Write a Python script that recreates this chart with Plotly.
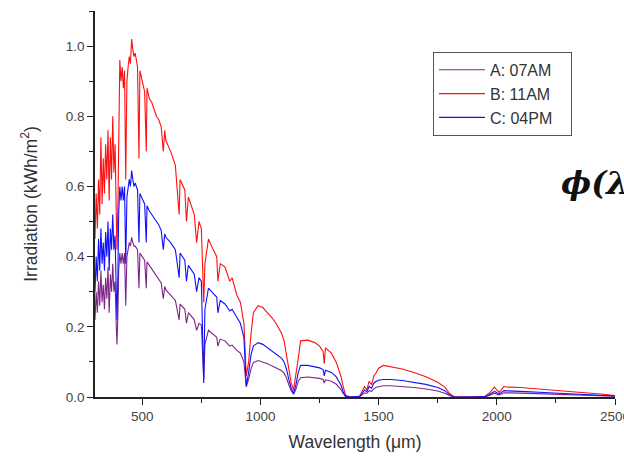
import plotly.graph_objects as go

wavelength = [300, 305, 310, 315, 320, 325, 330, 335, 340, 345, 350, 355, 360, 365, 370, 375, 380, 385, 390, 393, 397,
              400, 405, 410, 415, 420, 425, 430, 435, 440, 445, 450, 455, 460, 465, 470, 480, 486, 490, 500, 510, 517,
              520, 530, 540, 550, 560, 570, 580, 589, 595, 600, 620, 640, 656, 660, 680, 687, 695, 700, 720, 730, 740,
              750, 760, 765, 780, 800, 815, 820, 830, 850, 870, 880, 900, 915, 930, 940, 950, 960, 970, 990, 1010,
              1030, 1050, 1070, 1090, 1100, 1110, 1120, 1130, 1140, 1150, 1160, 1170, 1200, 1230, 1250, 1265, 1270,
              1275, 1300, 1320, 1340, 1350, 1360, 1380, 1400, 1420, 1430, 1440, 1450, 1460, 1470, 1480, 1490, 1500,
              1520, 1550, 1600, 1650, 1700, 1750, 1780, 1800, 1820, 1900, 1950, 1970, 1990, 2000, 2010, 2030, 2050,
              2100, 2200, 2300, 2400, 2450, 2500]

irr_A_07AM = [0.22, 0.30, 0.24, 0.33, 0.26, 0.36, 0.27, 0.32, 0.25, 0.34, 0.28, 0.37, 0.24, 0.35, 0.30, 0.38, 0.30,
              0.33, 0.20, 0.15, 0.24, 0.36, 0.41, 0.38, 0.41, 0.38, 0.41, 0.26, 0.40, 0.42, 0.44, 0.43, 0.455, 0.44,
              0.43, 0.43, 0.42, 0.31, 0.41, 0.40, 0.39, 0.31, 0.385, 0.375, 0.365, 0.355, 0.345, 0.335, 0.325, 0.28,
              0.315, 0.305, 0.29, 0.275, 0.22, 0.265, 0.25, 0.21, 0.24, 0.237, 0.22, 0.19, 0.21, 0.205, 0.05, 0.15,
              0.19, 0.18, 0.17, 0.145, 0.165, 0.16, 0.145, 0.148, 0.133, 0.125, 0.10, 0.03, 0.05, 0.08, 0.098, 0.104,
              0.10, 0.095, 0.088, 0.082, 0.075, 0.068, 0.055, 0.035, 0.018, 0.008, 0.022, 0.045, 0.055, 0.057, 0.055,
              0.053, 0.05, 0.04, 0.049, 0.045, 0.037, 0.022, 0.01, 0.001, 0.0, 0.0, 0.001, 0.006, 0.012, 0.01, 0.018,
              0.016, 0.024, 0.028, 0.03, 0.032, 0.032, 0.03, 0.027, 0.023, 0.017, 0.011, 0.004, 0.0, 0.0, 0.001,
              0.005, 0.011, 0.008, 0.006, 0.012, 0.012, 0.011, 0.009, 0.007, 0.005, 0.004, 0.002]

irr_B_11AM = [0.45, 0.58, 0.48, 0.62, 0.52, 0.74, 0.55, 0.68, 0.58, 0.72, 0.62, 0.76, 0.56, 0.74, 0.62, 0.80, 0.64,
              0.72, 0.52, 0.42, 0.55, 0.80, 0.96, 0.90, 0.94, 0.88, 0.93, 0.62, 0.90, 0.94, 0.97, 0.95, 1.02, 0.99,
              0.97, 0.98, 0.94, 0.68, 0.93, 0.90, 0.87, 0.70, 0.88, 0.85, 0.84, 0.82, 0.80, 0.79, 0.77, 0.70, 0.76,
              0.73, 0.70, 0.66, 0.52, 0.62, 0.59, 0.50, 0.57, 0.56, 0.52, 0.44, 0.50, 0.48, 0.27, 0.38, 0.45, 0.42,
              0.40, 0.33, 0.38, 0.37, 0.33, 0.34, 0.29, 0.27, 0.21, 0.06, 0.10, 0.18, 0.24, 0.26, 0.255, 0.24, 0.225,
              0.205, 0.18, 0.16, 0.12, 0.08, 0.04, 0.02, 0.06, 0.11, 0.16, 0.162, 0.155, 0.145, 0.13, 0.095, 0.14,
              0.125, 0.10, 0.06, 0.03, 0.005, 0.0, 0.0, 0.003, 0.015, 0.03, 0.02, 0.045, 0.035, 0.06, 0.07, 0.082,
              0.09, 0.087, 0.08, 0.07, 0.058, 0.042, 0.028, 0.01, 0.0, 0.0, 0.002, 0.012, 0.028, 0.02, 0.013, 0.03,
              0.028, 0.027, 0.022, 0.017, 0.011, 0.008, 0.004]

irr_C_04PM = [0.30, 0.40, 0.33, 0.45, 0.36, 0.48, 0.38, 0.44, 0.36, 0.47, 0.40, 0.50, 0.36, 0.48, 0.42, 0.52, 0.42,
              0.46, 0.30, 0.22, 0.35, 0.52, 0.60, 0.56, 0.60, 0.56, 0.60, 0.38, 0.57, 0.60, 0.62, 0.60, 0.645, 0.62,
              0.60, 0.61, 0.59, 0.44, 0.58, 0.565, 0.55, 0.44, 0.545, 0.53, 0.52, 0.51, 0.50, 0.49, 0.475, 0.42,
              0.465, 0.455, 0.44, 0.42, 0.34, 0.41, 0.39, 0.33, 0.375, 0.37, 0.35, 0.30, 0.34, 0.33, 0.04, 0.25,
              0.31, 0.295, 0.285, 0.24, 0.275, 0.265, 0.245, 0.25, 0.225, 0.21, 0.17, 0.03, 0.07, 0.12, 0.145, 0.155,
              0.15, 0.14, 0.13, 0.12, 0.11, 0.10, 0.08, 0.05, 0.025, 0.01, 0.035, 0.07, 0.09, 0.09, 0.087, 0.083,
              0.078, 0.06, 0.076, 0.07, 0.058, 0.035, 0.015, 0.002, 0.0, 0.0, 0.002, 0.01, 0.02, 0.015, 0.03, 0.025,
              0.04, 0.045, 0.048, 0.05, 0.05, 0.047, 0.042, 0.036, 0.027, 0.018, 0.006, 0.0, 0.0, 0.001, 0.007,
              0.016, 0.012, 0.008, 0.018, 0.017, 0.016, 0.013, 0.010, 0.007, 0.005, 0.003]

series_names = ["A: 07AM", "B: 11AM", "C: 04PM"]
series_values = [irr_A_07AM, irr_B_11AM, irr_C_04PM]
series_colors = ["#7d2589", "#ff1010", "#1010ff"]

x_ticks = [500, 1000, 1500, 2000, 2500]
y_ticks = [0.0, 0.2, 0.4, 0.6, 0.8, 1.0]

FONT = "Liberation Sans, Arial, sans-serif"
PAD = "\u00a0\u00a0\u00a0"

fig = go.Figure()
for name, vals, col in zip(series_names, series_values, series_colors):
    fig.add_trace(go.Scatter(x=wavelength, y=vals, mode="lines", name=name + PAD,
                             line=dict(color=col, width=1.1)))

fig.update_layout(
    width=624, height=457,
    margin=dict(l=95, r=9, t=11, b=60, autoexpand=False),
    paper_bgcolor="white", plot_bgcolor="white",
    font=dict(family=FONT, color="#333333", size=13),
    showlegend=True,
    legend=dict(x=0.65, y=0.894, xanchor="left", yanchor="top",
                bordercolor="#555555", borderwidth=1, bgcolor="white",
                font=dict(family=FONT, size=16, color="#333333"),
                itemwidth=46, tracegroupgap=0),
    xaxis=dict(range=[300, 2500], tickvals=x_ticks, ticktext=[str(v) for v in x_ticks],
               showline=True, linecolor="#222222", linewidth=1.5, ticks="outside", ticklen=6,
               tickwidth=1.2, tickcolor="#222222", showgrid=False, zeroline=False,
               ticklabeloverflow="allow", automargin=False,
               minor=dict(tickvals=[750, 1250, 1750, 2250], ticks="outside", ticklen=4,
                          tickcolor="#222222", tickwidth=1.2),
               tickfont=dict(size=13.5, color="#444444"),
               title=dict(text="Wavelength (μm)", font=dict(size=17.5, color="#333333"), standoff=13)),
    yaxis=dict(range=[0, 1.1], tickvals=y_ticks, ticktext=["%.1f" % v for v in y_ticks],
               showline=True, linecolor="#222222", linewidth=1.5, ticks="outside", ticklen=6,
               tickwidth=1.2, tickcolor="#222222", showgrid=False, zeroline=False,
               automargin=False,
               minor=dict(tickvals=[0.1, 0.3, 0.5, 0.7, 0.9, 1.1], ticks="outside", ticklen=4,
                          tickcolor="#222222", tickwidth=1.2),
               tickfont=dict(size=13.5, color="#444444"),
               title=dict(text="Irradiation (kWh/m<sup>2</sup>)", font=dict(size=17.5, color="#333333"),
                          standoff=24)),
)

fig.add_annotation(text="ϕ(λ", xref="paper", yref="paper", x=(559 - 95) / 520, y=(397 - 183) / 386,
                   xanchor="left", yanchor="middle", showarrow=False,
                   font=dict(family="DejaVu Serif", size=32, color="#111111", weight="bold", style="italic"))

fig.write_html("out.html")
